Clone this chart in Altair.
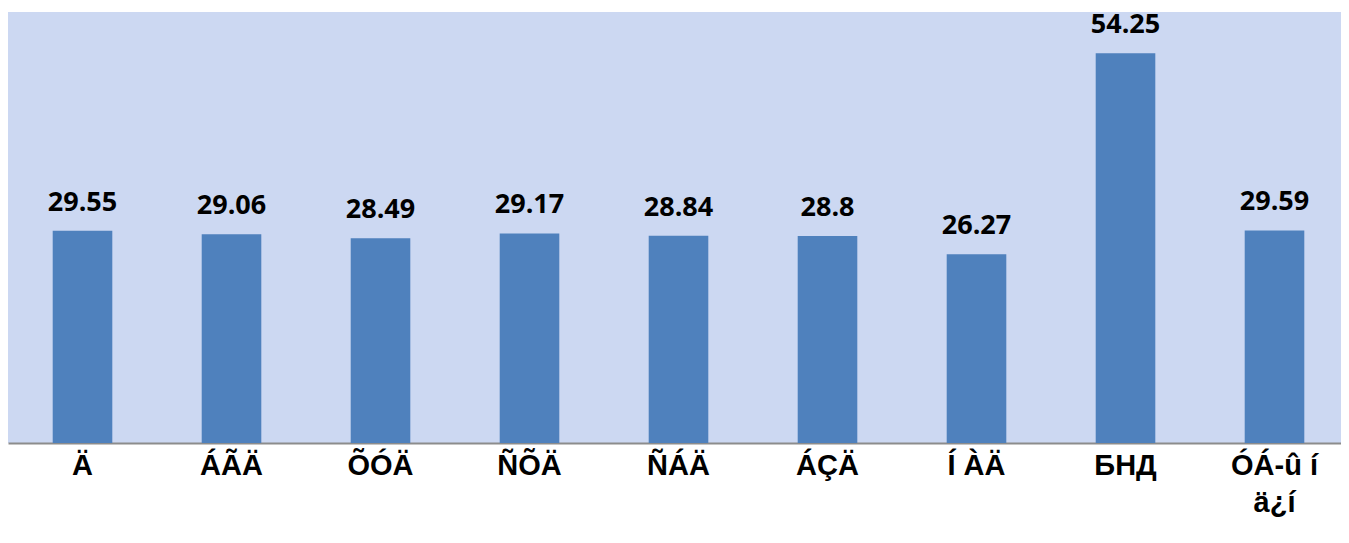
import altair as alt
import pandas as pd

categories = ["Ä", "ÁÃÄ", "ÕÓÄ", "ÑÕÄ", "ÑÁÄ", "ÁÇÄ", "Í ÀÄ", "БНД", "ÓÁ-û í\nä¿í"]
values = [29.55, 29.06, 28.49, 29.17, 28.84, 28.8, 26.27, 54.25, 29.59]
value_labels = ["29.55", "29.06", "28.49", "29.17", "28.84", "28.8", "26.27", "54.25", "29.59"]

df = pd.DataFrame({"cat": categories, "val": values, "lbl": value_labels})

xscale = alt.Scale(paddingInner=0.6, paddingOuter=0.3, range=[0, 1341])

x = alt.X("cat:N", sort=categories, title=None, scale=xscale,
          axis=alt.Axis(labelAngle=0, ticks=False, domainColor="#8c8c8c", domainWidth=2,
                        labelFont="Liberation Sans", labelFontWeight="bold", labelFontSize=29,
                        labelColor="#000000", labelPadding=8, labelLineHeight=37,
                        labelExpr="split(datum.label, '\\n')", grid=False))
y = alt.Y("val:Q", title=None, scale=alt.Scale(domain=[0, 60], nice=False),
          axis=None)

bars = alt.Chart(df).mark_bar(color="#4f81bd").encode(x=x, y=y)
text = alt.Chart(df).mark_text(font="Open Sans", fontWeight="bold", fontSize=27,
                               baseline="alphabetic", dy=-20, color="#000000").encode(
    x=alt.X("cat:N", sort=categories, scale=xscale), y="val:Q", text="lbl:N")

chart = (bars + text).properties(
    width=1333, height=431,
    autosize=alt.AutoSizeParams(type="none"),
    padding={"left": 0, "top": 4, "right": 0, "bottom": 100},
    background="#ffffff",
).configure_view(fill="#ccd8f2", stroke=None)

chart.save("out.html", embed_options={"renderer": "svg", "actions": False})
